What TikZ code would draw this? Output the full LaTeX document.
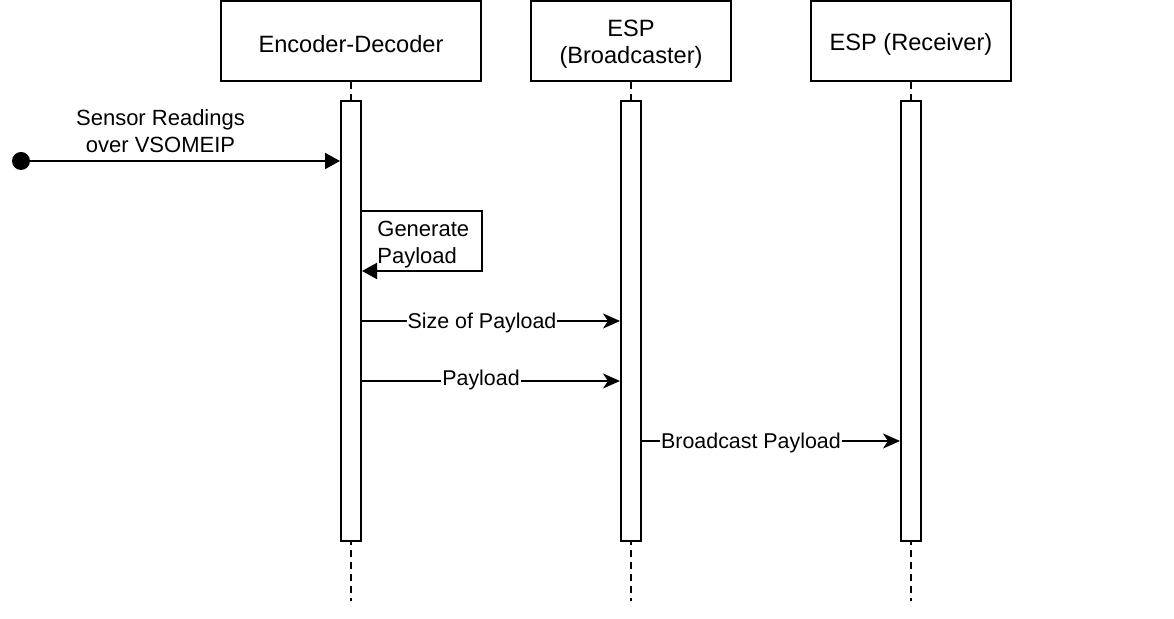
\documentclass[tikz,border=0pt]{standalone}
\usepackage{fontspec}
\setmainfont{Liberation Sans}
\usepackage{tikz}
\usetikzlibrary{positioning,arrows.meta,calc}

\begin{document}
\begin{tikzpicture}[x=0.5pt, y=-0.5pt,
        font=\fontsize{11}{13.5}\selectfont,
        head/.style={draw, line width=1pt, align=center, minimum height=40pt, inner sep=0pt},
        htxt/.style={align=center, font=\fontsize{11.8}{13.5}\selectfont},
        bar/.style={draw, fill=white, line width=1pt, minimum width=10pt, minimum height=220pt, inner sep=0pt},
        life/.style={line width=1pt, dash pattern=on 3.5pt off 2.5pt},
        msg/.style={line width=1pt, -{Stealth[length=8.5pt, width=7.5pt, inset=2.5pt]}},
        blk/.style={line width=1pt, -{Triangle[length=7.5pt, width=8pt]}},
        lbl/.style={fill=white, inner sep=0.5pt, yshift=-1.2pt, font=\fontsize{10.7}{13}\selectfont},
        dot/.style={circle, fill=black, minimum size=9pt, inner sep=0pt}
    ]
    \useasboundingbox (0,0) rectangle (1174,619);
    % participants
    \node[head, minimum width=130pt] (enc) at (351,41) {};
    \node[head, minimum width=100pt] (espb) at (631,41) {};
    \node[head, minimum width=100pt] (espr) at (911,41) {};
    \node[htxt] at ($(enc)+(0,3)$) {Encoder-Decoder};
    \node[htxt] at ($(espb)+(0,3)$) {ESP\\(Broadcaster)};
    \node[htxt] at ($(espr)+(0,3)$) {ESP (Receiver)};
    \coordinate (encend) at (351,601);
    \coordinate (espbend) at (631,601);
    \coordinate (esprend) at (911,601);
    \draw[life] (enc) -- (encend);
    \draw[life] (espb) -- (espbend);
    \draw[life] (espr) -- (esprend);
    % activations
    \node[bar] (encbar) at (351,321) {};
    \node[bar] (espbbar) at (631,321) {};
    \node[bar] (esprbar) at (911,321) {};
    % messages
    \node[dot] (src) at (21,161) {};
    \draw[blk] (src.center) -- node[above=0.5pt, xshift=-10pt, align=center] (sensor) {Sensor Readings\\over VSOMEIP} (src.center -| encbar.west);
    \coordinate (g1) at (0,211);
    \coordinate (g2) at (0,271);
    \draw[blk] (g1 -| encbar.east) -- ++(120,0) |- (g2 -| encbar.east);
    \node[anchor=west, align=left, inner sep=0pt] (gen) at (377,245) {Generate\\Payload};
    \coordinate (m1) at (0,321);
    \coordinate (m2) at (0,381);
    \coordinate (m3) at (0,441);
    \draw[msg] (m1 -| encbar.east) -- node[lbl, xshift=-4.5pt] (size) {Size of Payload} (m1 -| espbbar.west);
    \draw[msg] (m2 -| encbar.east) -- node[lbl, xshift=-5pt, yshift=1.5pt] (pay) {Payload} (m2 -| espbbar.west);
    \draw[msg] (m3 -| espbbar.east) -- node[lbl, xshift=-10pt] (bcast) {Broadcast Payload} (m3 -| esprbar.west);
\end{tikzpicture}
\end{document}
